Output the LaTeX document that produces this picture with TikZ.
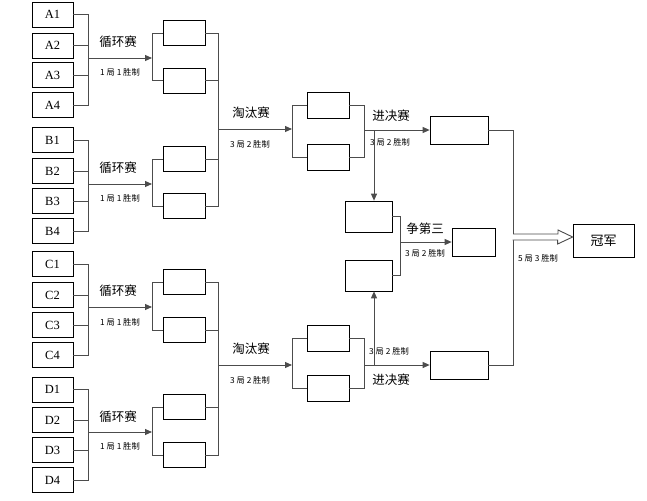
\documentclass[tikz,border=0pt]{standalone}
\usepackage{fontspec}
\setmainfont{Liberation Serif}
\newfontfamily\cjk{Noto Sans CJK SC}
\usetikzlibrary{arrows.meta,calc}
\begin{document}
\begin{tikzpicture}[x=1pt,y=-1pt,
  lnk/.style={draw=black!70,line width=0.9pt},
  arr/.style={lnk,-{Triangle[length=7pt,width=6pt]}},
  bx/.style={draw=black,line width=0.7pt,fill=white,inner sep=0pt},
  player/.style={bx,minimum width=41pt,minimum height=25pt,font=\fontsize{12.5}{14}\selectfont},
  inner/.style={bx,minimum width=42pt,minimum height=25pt},
  semi/.style={bx,minimum width=42pt,minimum height=26pt},
  fin/.style={bx,minimum width=58pt,minimum height=28pt},
  third/.style={bx,minimum width=47pt,minimum height=31pt},
  big/.style={font=\cjk\fontsize{12.5}{15}\selectfont,inner sep=0pt},
  small/.style={font=\cjk\fontsize{8.3}{10}\selectfont,inner sep=0pt}]
\useasboundingbox (0,0) rectangle (647,500);

% groups: name, player centres, inner centres, arrow y, label y's
\foreach \g/\pa/\pb/\pc/\pd/\ia/\ib/\ay/\la/\lb in
  {A/14.5/45.5/75/105/33/80.5/58/42/72,
   B/140/171/201/231/159/206/184/168/198,
   C/264/295/325/355/282/330/307/291/322,
   D/389.5/420/450/480/407/455/432/417/446}{
  \node[player] (\g1) at (52.5,\pa) {\g1};
  \node[player] (\g2) at (52.5,\pb) {\g2};
  \node[player] (\g3) at (52.5,\pc) {\g3};
  \node[player] (\g4) at (52.5,\pd) {\g4};
  \node[inner] (\g u) at (184,\ia) {};
  \node[inner] (\g l) at (184,\ib) {};
  \coordinate (\g br) at (88,\ay);
  \coordinate (\g ib) at (152,\ay);
  \draw[lnk] (\g1.east) -- (88,\pa) -- (88,\pd) -- (\g4.east);
  \draw[lnk] (\g2.east) -- (88,\pb);
  \draw[lnk] (\g3.east) -- (88,\pc);
  \draw[arr] (\g br) -- (\g ib);
  \draw[lnk] (\g u.west) -- (152,\ia) -- (152,\ib) -- (\g l.west);
  \node[big] at (118,\la) {循环赛};
  \node[small] at (120,\lb) {1 局 1 胜制};
}

% semi-final blocks
\node[semi] (S1) at (328,105) {};
\node[semi] (S2) at (328,157) {};
\node[semi] (S3) at (328,338) {};
\node[semi] (S4) at (328,388) {};

\draw[lnk] (Au.east) -- (218,33) -- (218,206) -- (Bl.east);
\draw[lnk] (Al.east) -- (218,80.5);
\draw[lnk] (Bu.east) -- (218,159);
\draw[lnk] (Cu.east) -- (218,282) -- (218,455) -- (Dl.east);
\draw[lnk] (Cl.east) -- (218,330);
\draw[lnk] (Du.east) -- (218,407);

\coordinate (up0) at (218,129);
\coordinate (up1) at (292,129);
\coordinate (lo0) at (218,365);
\coordinate (lo1) at (292,365);
\draw[arr] (up0) -- (up1);
\draw[arr] (lo0) -- (lo1);
\draw[lnk] (S1.west) -- (292,105) -- (292,157) -- (S2.west);
\draw[lnk] (S3.west) -- (292,338) -- (292,388) -- (S4.west);
\draw[lnk] (S1.east) -- (364,105) -- (364,157) -- (S2.east);
\draw[lnk] (S3.east) -- (364,338) -- (364,388) -- (S4.east);

\node[big] at (251,113) {淘汰赛};
\node[small] at (250,144) {3 局 2 胜制};
\node[big] at (251,349) {淘汰赛};
\node[small] at (250,380) {3 局 2 胜制};

% finals
\node[fin] (F1) at (459,130) {};
\node[fin] (F2) at (459,365) {};
\coordinate (sf1) at (364,130);
\coordinate (sf2) at (364,365);
\draw[arr] (sf1) -- (F1.west);
\draw[arr] (sf2) -- (F2.west);
\node[big] at (391,116) {进决赛};
\node[small] at (390,142) {3 局 2 胜制};
\node[small] at (389,351) {3 局 2 胜制};
\node[big] at (391,380) {进决赛};

% third place
\node[third] (T1) at (368.5,216.5) {};
\node[third] (T2) at (368.5,275.5) {};
\node[fin,minimum width=43pt] (T3) at (473.5,242) {};
\coordinate (d1) at (374,130);
\coordinate (d2) at (374,365);
\draw[arr] (d1) -- (d1 |- T1.north);
\draw[arr] (d2) -- (d2 |- T2.south);
\draw[lnk] (T1.east) -- (400,216.5) -- (400,275.5) -- (T2.east);
\coordinate (t0) at (400,242);
\draw[arr] (t0) -- (T3.west);
\node[big] at (425,229) {争第三};
\node[small] at (425,253) {3 局 2 胜制};

% champion
\node[bx,minimum width=61pt,minimum height=33pt,font=\cjk\fontsize{13}{15}\selectfont] (CH) at (603.5,240.5) {冠军};
\draw[lnk] (F1.east) -- (513,130) -- (513,365) -- (F2.east);
\coordinate (h0) at (513,237);
\draw[draw=black!70,line width=0.9pt,fill=white]
  (h0) ++(0,-3) -- ++(45,0) -- ++(0,-4) -- (CH.west |- h0) -- ++(-15,7) -- ++(0,-4) -- ++(-45,0);
\node[small] at (538,258) {5 局 3 胜制};
\end{tikzpicture}
\end{document}
